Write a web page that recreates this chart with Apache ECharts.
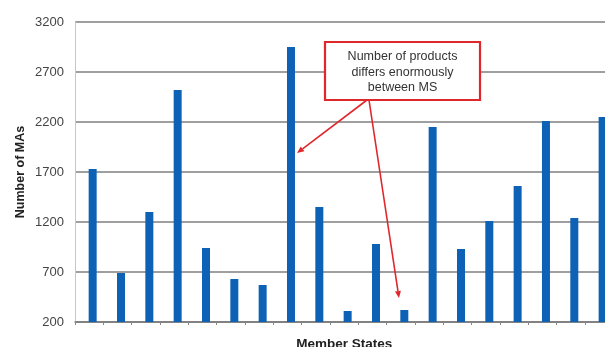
<!DOCTYPE html>
<html><head><meta charset="utf-8">
<script src="https://cdn.jsdelivr.net/npm/echarts@6/dist/echarts.min.js"></script>
<style>html,body{margin:0;padding:0;background:#fff}#c{width:605px;height:347px}</style>
</head><body><div id="c"></div>
<script>
// ---- data ----
const categories = ['MS1','MS2','MS3','MS4','MS5','MS6','MS7','MS8','MS9','MS10','MS11','MS12','MS13','MS14','MS15','MS16','MS17','MS18','MS19'];
const values = [1730, 690, 1300, 2520, 940, 630, 570, 2950, 1350, 310, 980, 320, 2150, 930, 1210, 1560, 2210, 1240, 2250];
const yTicks = [200, 700, 1200, 1700, 2200, 2700, 3200];
const yAxisTitle = 'Number of MAs';
const xAxisTitle = 'Member States';
const annotationLines = ['Number of products', 'differs enormously', 'between MS'];

// ---- chart ----
const chart = echarts.init(document.getElementById('c'), null, {renderer: 'canvas'});
const red = '#e0282c';
function arrow(x1, y1, x2, y2) {
  const dx = x2 - x1, dy = y2 - y1, L = Math.hypot(dx, dy);
  const ux = dx / L, uy = dy / L, hl = 7, hw = 3;
  const bx = x2 - ux * hl, by = y2 - uy * hl;
  return [
    {type: 'line', shape: {x1: x1, y1: y1, x2: bx, y2: by}, style: {stroke: red, lineWidth: 1.6}, z: 100},
    {type: 'polygon', shape: {points: [[x2, y2], [bx - uy * hw, by + ux * hw], [bx + uy * hw, by - ux * hw]]}, style: {fill: red}, z: 100}
  ];
}
const option = {
  animation: false,
  backgroundColor: '#fff',
  grid: [
    {left: 75, width: 538.3, top: 22, height: 300, containLabel: false, outerBoundsMode: 'none'},
    {left: 78.5, width: 538.3, top: 22, height: 300, containLabel: false, outerBoundsMode: 'none'}
  ],
  xAxis: [
    {
      type: 'category', gridIndex: 0, data: categories,
      name: xAxisTitle, nameLocation: 'middle', nameGap: 15, nameMoveOverlap: false,
      nameTextStyle: {fontFamily: 'Liberation Sans', fontWeight: 'bold', fontSize: 13.5, color: '#222'},
      axisLine: {lineStyle: {color: '#7a7a7a', width: 1.5}},
      axisTick: {show: true, interval: 0, length: 3, lineStyle: {color: '#888'}},
      axisLabel: {show: false}
    },
    {type: 'category', gridIndex: 1, data: categories, show: false}
  ],
  yAxis: [
    {
      type: 'value', gridIndex: 0, min: yTicks[0], max: yTicks[yTicks.length - 1], interval: 500,
      name: yAxisTitle, nameLocation: 'middle', nameGap: 48, nameRotate: 90, nameMoveOverlap: false,
      nameTextStyle: {fontFamily: 'Liberation Sans', fontWeight: 'bold', fontSize: 12.5, color: '#222'},
      axisLine: {show: true, lineStyle: {color: '#c8c8c8', width: 1}},
      axisTick: {show: false},
      axisLabel: {fontFamily: 'Liberation Sans', fontSize: 13, color: '#444', margin: 11,
                  formatter: function (v) { return String(v); }},
      splitLine: {show: true, lineStyle: {color: '#7f7f7f', width: 1.5}}
    },
    {type: 'value', gridIndex: 1, min: yTicks[0], max: yTicks[yTicks.length - 1], show: false}
  ],
  series: [{
    type: 'bar', xAxisIndex: 1, yAxisIndex: 1, data: values, barWidth: 8,
    itemStyle: {color: '#0e62b6'}, z: 5
  }],
  graphic: [
    {type: 'rect', shape: {x: 325, y: 42, width: 155, height: 58},
     style: {fill: '#fff', stroke: red, lineWidth: 2.2}, z: 100},
    {type: 'text', x: 402.5, y: 49, z: 101,
     style: {text: annotationLines.join('\n'), align: 'center', verticalAlign: 'top',
             fontFamily: 'Liberation Sans', fontSize: 12.5, lineHeight: 15.5, fill: '#333'}}
  ].concat(arrow(367, 100, 297, 153), arrow(369, 100, 399, 298))
};
chart.setOption(option);
</script>
</body></html>
